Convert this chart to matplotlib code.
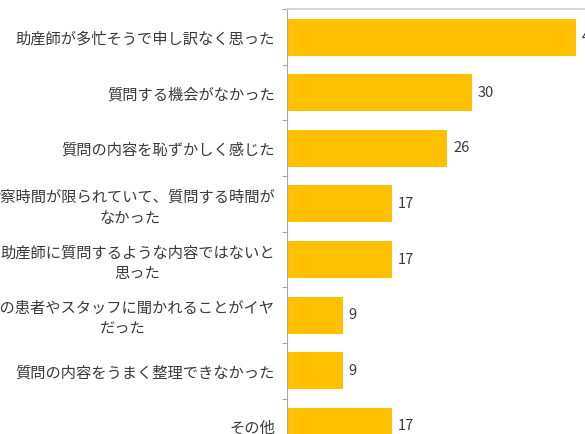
import matplotlib
matplotlib.use('Agg')
import matplotlib.pyplot as plt
from matplotlib.ticker import FixedLocator

plt.rcParams['font.family'] = ['Noto Sans CJK JP', 'DejaVu Sans']

# data
reasons = [
    '助産師が多忙そうで申し訳なく思った',
    '質問する機会がなかった',
    '質問の内容を恥ずかしく感じた',
    '診察時間が限られていて、質問する時間が\nなかった',
    '助産師に質問するような内容ではないと\n思った',
    '周りの患者やスタッフに聞かれることがイヤ\nだった',
    '質問の内容をうまく整理できなかった',
    'その他',
]
percent = [47, 30, 26, 17, 17, 9, 9, 17]

bar_color = '#FFC000'
text_color = '#3a3a3a'

W, H = 585, 434
fig = plt.figure(figsize=(W / 100, H / 100), dpi=100)

# plot area is larger than the visible crop (cut on the right and bottom)
x0, top = 287.3, 9.3
px_per_unit = 6.14
xmax = 50
row_h = 55.6
n = len(reasons)
ax = fig.add_axes([x0 / W, 1 - (top + n * row_h) / H,
                   xmax * px_per_unit / W, n * row_h / H])

ypos = list(range(n))
ax.barh(ypos, percent, height=0.665, color=bar_color, edgecolor='none')

for y, v in zip(ypos, percent):
    ax.annotate(str(v), xy=(v, y), xytext=(4.5, 0), textcoords='offset points',
                va='center', ha='left', fontsize=10.5, color=text_color,
                annotation_clip=False)

ax.set_xlim(0, xmax)
ax.set_ylim(n - 0.5, -0.5)

ax.set_yticks(ypos)
ax.set_yticklabels(reasons, fontsize=11, color=text_color,
                   multialignment='center', linespacing=1.28)
ax.yaxis.set_minor_locator(FixedLocator([i + 0.5 for i in range(-1, n)]))
ax.tick_params(axis='y', which='major', length=0, pad=9)
ax.tick_params(axis='y', which='minor', length=3.5, width=0.8,
               color='#a6a6a6', direction='out')
ax.set_xticks([])

for side in ['right', 'bottom']:
    ax.spines[side].set_visible(False)
ax.spines['left'].set_color('#a6a6a6')
ax.spines['top'].set_color('#cfcfcf')
ax.spines['top'].set_linewidth(1.2)

fig.savefig('out.png', dpi=100)
